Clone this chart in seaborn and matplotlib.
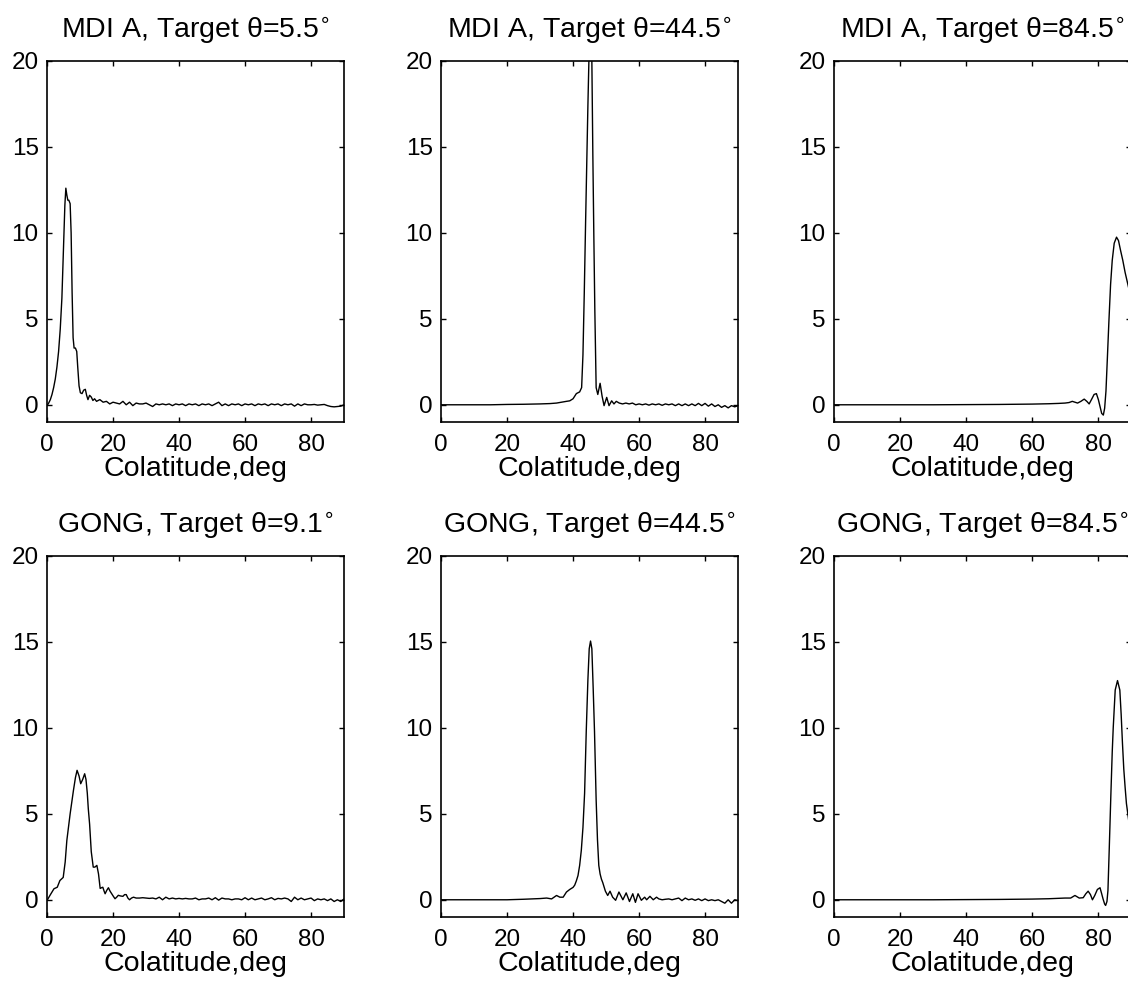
import numpy as np
import pandas as pd
import matplotlib.pyplot as plt
import seaborn as sns

# MDI A, target 5.5 deg
mdi5_x = [0, 0.5, 1.0, 1.5, 2.0, 2.5, 3.0, 3.5, 4.0, 4.5,
          5.0, 5.4, 5.7, 6.0, 6.3, 6.6, 7.0, 7.3, 7.6, 7.9,
          8.2, 8.6, 9.0, 9.3, 9.7, 10.1, 10.6, 11.1, 11.6, 12.0,
          12.4, 12.9, 13.4, 13.9, 14.4]
mdi5_y = [-0.05, 0.1, 0.3, 0.6, 1.0, 1.5, 2.2, 3.1, 4.4, 6.2,
          9.2, 11.6, 12.6, 12.2, 11.9, 11.9, 11.7, 10.0, 6.5, 3.9,
          3.3, 3.3, 3.1, 2.2, 1.1, 0.7, 0.65, 0.85, 0.9, 0.55,
          0.3, 0.55, 0.45, 0.25, 0.35]
mdi5_tail = [0.2, 0.3, 0.15, 0.2, 0.05, 0.15, 0.1, 0.05, 0.2, 0.0,      # 15-24
             0.15, -0.05, 0.1, 0.05, 0.05, 0.1, 0.0, -0.1, 0.05, 0.0,   # 25-34
             0.05, 0.0, 0.05, -0.05, 0.05, 0.0, 0.05, -0.05, 0.05, 0.0,  # 35-44
             0.05, -0.05, 0.05, 0.0, 0.05, -0.05, 0.05, 0.15, -0.05, 0.05,  # 45-54
             -0.05, 0.05, 0.0, 0.05, -0.05, 0.05, 0.0, 0.05, -0.05, 0.05,  # 55-64
             0.0, 0.05, -0.05, 0.05, 0.0, 0.05, -0.05, 0.05, 0.0, 0.05,  # 65-74
             -0.08, 0.05, -0.05, 0.05, 0.0, 0.0, 0.02, -0.02, 0.0, 0.02,  # 75-84
             -0.05, -0.1, -0.12, -0.1, -0.08, 0.0]                       # 85-90

# MDI A, target 44.5 deg
mdi45_x = [0, 5, 10, 15, 20, 25, 30, 33, 35, 36.5,
           38.0, 39.0, 40.0, 41.0, 42.0, 42.6, 43.0, 43.4, 43.8, 44.2,
           44.5, 44.8, 45.2, 45.7, 46.0, 46.3, 46.6, 47.0, 47.5, 48.2,
           48.8, 49.4, 50.2, 50.9, 51.7, 52.4, 53.1]
mdi45_y = [0.0, 0.0, 0.0, 0.0, 0.02, 0.03, 0.05, 0.07, 0.1, 0.15,
           0.2, 0.23, 0.35, 0.65, 0.75, 1.0, 2.9, 6.5, 10.6, 14.5,
           17.4, 20.0, 22.5, 20.0, 14.5, 9.8, 5.5, 1.0, 0.6, 1.25,
           0.5, -0.05, 0.43, -0.05, 0.23, 0.05, 0.2]
mdi45_tail = [0.1, 0.05, 0.1, 0.05, 0.1, 0.0, 0.05, 0.0, 0.05, -0.02,   # 54-63
              0.05, 0.0, 0.05, -0.03, 0.05, 0.0, 0.05, -0.05, 0.05, -0.05,  # 64-73
              0.05, -0.05, 0.05, -0.05, 0.08, -0.05, 0.08, -0.08, 0.05, -0.1,  # 74-83
              0.0, -0.15, -0.05, -0.18, -0.05, -0.12, -0.05]             # 84-90

# MDI A, target 84.5 deg
mdi84_x = [0, 10, 20, 30, 40, 50, 60, 65, 68, 70,
           71.2, 72.2, 73.0, 73.8, 74.8, 75.8, 76.6, 77.3, 78.0, 78.8,
           79.5, 80.1, 80.6, 81.1, 81.6, 82.0, 82.4, 82.8, 83.3, 83.8,
           84.3, 84.9, 85.6, 86.2, 86.8, 87.5, 88.2, 88.8, 89.4, 90.0]
mdi84_y = [0, 0, 0, 0, 0.01, 0.02, 0.04, 0.06, 0.08, 0.1,
           0.13, 0.2, 0.15, 0.1, 0.2, 0.33, 0.2, 0.05, 0.3, 0.6,
           0.65, 0.3, -0.1, -0.5, -0.6, -0.2, 0.8, 2.6, 4.9, 7.0,
           8.4, 9.4, 9.75, 9.55, 9.0, 8.4, 7.7, 7.2, 6.7, 6.3]

# GONG, target 9.1 deg
gong9_x = [0, 0.9, 2.1, 3.1, 3.9, 4.9, 5.5, 6.0, 7.0, 8.0,
           8.6, 9.1, 9.7, 10.2, 10.8, 11.4, 11.8, 12.2, 12.5, 12.9,
           13.4, 14.0, 14.5, 15.1, 15.6, 16.1, 16.5, 16.9, 17.3, 17.6,
           18.1, 18.6, 19.1, 19.6, 20.1, 20.6, 21.1, 21.6, 22.3, 23.0,
           23.5, 24.0, 24.5, 25.0, 25.6, 26.2]
gong9_y = [-0.04, 0.26, 0.64, 0.73, 1.12, 1.3, 2.2, 3.45, 5.0, 6.36,
           7.1, 7.53, 7.2, 6.75, 7.0, 7.33, 7.0, 6.2, 5.3, 4.4,
           2.8, 1.9, 1.9, 2.0, 1.5, 0.66, 0.7, 0.73, 0.5, 0.35,
           0.55, 0.7, 0.5, 0.35, 0.2, 0.06, 0.15, 0.26, 0.22, 0.2,
           0.3, 0.3, 0.1, 0.0, 0.1, 0.15]
gong9_tail = [0.1, 0.1, 0.12, 0.1, 0.08, 0.1, 0.05, 0.15, 0.0, 0.15,   # 27-36
              0.05, 0.1, 0.05, 0.08, 0.05, 0.08, 0.05, 0.05, 0.1, 0.0,  # 37-46
              0.05, 0.05, 0.1, 0.0, 0.12, -0.02, 0.1, 0.05, 0.05, 0.0,  # 47-56
              0.05, 0.05, 0.0, 0.12, 0.0, 0.1, 0.0, 0.05, 0.1, 0.0,     # 57-66
              0.05, 0.12, 0.0, 0.08, 0.05, 0.1, 0.05, -0.1, 0.15, 0.0,  # 67-76
              0.1, 0.0, 0.05, 0.1, -0.05, 0.05, 0.0, 0.05, -0.05, 0.05,  # 77-86
              -0.1, 0.0, -0.1, 0.05]                                      # 87-90

# GONG, target 44.5 deg
gong45_x = [0, 10, 20, 25, 30, 32, 33.5, 35.0, 36.0, 37.0,
            38.0, 39.0, 40.0, 40.5, 41.0, 41.5, 42.0, 42.5, 43.0, 43.5,
            44.0, 44.5, 44.9, 45.3, 45.7, 46.1, 46.5, 47.0, 47.4, 47.8,
            48.2, 48.6, 49.0, 49.4, 49.8, 50.5, 51.2, 52.0, 52.9, 53.9,
            55.1, 56.1, 57.1, 58.1, 58.9, 59.7, 60.7, 61.7, 62.3, 63.3,
            64.3, 65.3]
gong45_y = [0.0, 0.0, 0.0, 0.03, 0.07, 0.1, 0.05, 0.25, 0.15, 0.15,
            0.45, 0.6, 0.72, 0.85, 1.1, 1.41, 2.0, 2.87, 4.2, 6.2,
            9.8, 12.8, 14.6, 15.05, 14.6, 12.3, 9.8, 5.8, 3.5, 2.0,
            1.5, 1.2, 1.0, 0.75, 0.5, 0.25, 0.5, 0.15, -0.03, 0.45,
            0.0, 0.4, -0.1, 0.35, -0.15, 0.35, -0.03, 0.15, 0.0, 0.2,
            0.0, 0.15]
gong45_tail = [0.05, 0.0, 0.03, 0.05, 0.0, 0.05, 0.1, -0.05, 0.1, 0.0,  # 66-75
               0.05, -0.03, 0.05, -0.05, 0.05, -0.05, 0.0, -0.05, 0.0, -0.1,  # 76-85
               -0.2, 0.0, -0.2, 0.0, -0.05]                              # 86-90

# GONG, target 84.5 deg
gong84_x = [0, 10, 20, 30, 40, 50, 60, 65, 70, 71.7,
            73.0, 74.3, 75.5, 76.3, 77.0, 77.7, 78.3, 79.0, 79.8, 80.6,
            81.1, 81.5, 82.0, 82.3, 82.7, 83.0, 83.4, 83.9, 84.3, 84.6,
            85.2, 85.9, 86.6, 87.0, 87.4, 87.8, 88.2, 88.6, 89.3, 90.0]
gong84_y = [0, 0, 0, 0, 0.01, 0.02, 0.04, 0.06, 0.1, 0.1,
            0.25, 0.1, 0.12, 0.35, 0.5, 0.3, 0.0, 0.25, 0.6, 0.7,
            0.35, 0.06, -0.25, -0.33, -0.1, 0.54, 3.0, 6.2, 8.6, 10.0,
            12.2, 12.75, 12.2, 10.8, 9.1, 7.6, 6.55, 5.6, 4.6, 4.0]

titles = ["MDI A, Target θ=5.5", "MDI A, Target θ=44.5", "MDI A, Target θ=84.5",
          "GONG, Target θ=9.1", "GONG, Target θ=44.5", "GONG, Target θ=84.5"]


def curve(x, y, tail=None, tail_start=None):
    x = list(x)
    y = list(y)
    if tail is not None:
        x += list(np.arange(tail_start, tail_start + len(tail)))
        y += list(tail)
    return pd.DataFrame({"colat": x, "kernel": y})


panels = [
    curve(mdi5_x, mdi5_y, mdi5_tail, 15),
    curve(mdi45_x, mdi45_y, mdi45_tail, 54),
    curve(mdi84_x, mdi84_y),
    curve(gong9_x, gong9_y, gong9_tail, 27),
    curve(gong45_x, gong45_y, gong45_tail, 66),
    curve(gong84_x, gong84_y),
]

sns.set_style("ticks")
plt.rcParams["font.family"] = ["Liberation Sans", "DejaVu Sans"]
plt.rcParams["axes.linewidth"] = 1.2
plt.rcParams["text.color"] = "black"
plt.rcParams["axes.labelcolor"] = "black"
plt.rcParams["xtick.color"] = "black"
plt.rcParams["ytick.color"] = "black"
plt.rcParams["axes.edgecolor"] = "black"

fig = plt.figure(figsize=(11.28, 9.88), dpi=100)

lefts = [0.0417, 0.3910, 0.7394]
bottoms = [0.5729, 0.0719]
w, h = 0.2633, 0.3654

for i, df in enumerate(panels):
    ax = fig.add_axes([lefts[i % 3], bottoms[i // 3], w, h])
    sns.lineplot(data=df, x="colat", y="kernel", ax=ax, color="black",
                 linewidth=1.0, sort=False, estimator=None)
    ax.set_xlim(0, 90)
    ax.set_ylim(-1, 20)
    ax.set_xticks([0, 20, 40, 60, 80])
    ax.set_yticks([0, 5, 10, 15, 20])
    ax.tick_params(direction="in", top=True, right=True, length=3.6, width=1,
                   labelsize=17.5, color="black", labelcolor="black")
    ax.tick_params(axis="x", pad=9)
    ax.tick_params(axis="y", pad=6)
    ax.set_title(titles[i] + r"$^{\circ}$", fontsize=20.5, pad=16.5, color="black")
    ax.set_xlabel("Colatitude,deg", fontsize=20.5, labelpad=0, color="black")
    ax.set_ylabel("")

fig.savefig("out.png", dpi=100)
